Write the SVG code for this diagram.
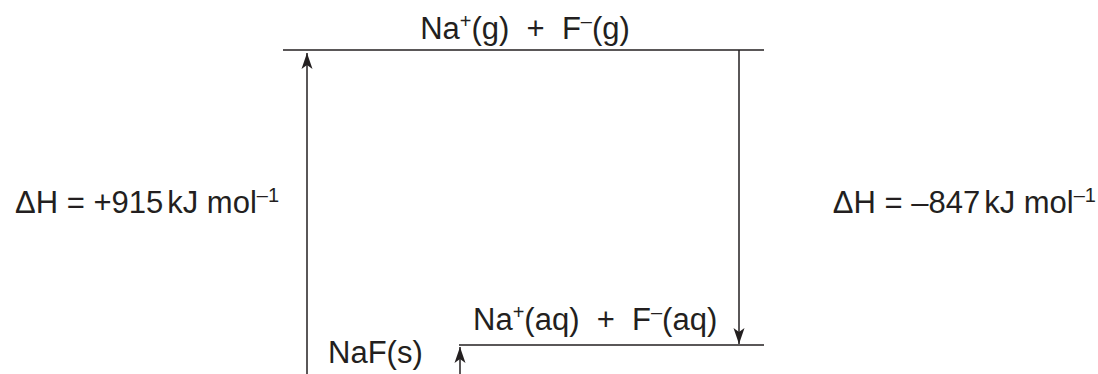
<svg xmlns="http://www.w3.org/2000/svg" width="1098" height="374" viewBox="0 0 1098 374">
<style>
text{font-family:"Liberation Sans",Arial,sans-serif;font-size:31px;fill:#231f20;white-space:pre}
.sup{font-size:20px}
.lvl{stroke:#231f20;stroke-width:1.5;fill:none}
.arr{stroke:#231f20;stroke-width:1.5;fill:none}
</style>
<defs>
<marker id="ah" viewBox="0 0 16 12" refX="16" refY="6" markerWidth="16" markerHeight="12" markerUnits="userSpaceOnUse" orient="auto">
<path d="M0,0.5 L16,6 L0,11.5 L4,6 Z" fill="#231f20"/>
</marker>
</defs>
<rect width="1098" height="374" fill="#fff"/>
<g id="level-gas">
<line class="lvl" x1="283" y1="50" x2="764" y2="50"/>
<text x="525" y="39" text-anchor="middle" xml:space="preserve">Na<tspan class="sup" dy="-11">+</tspan><tspan dy="11">(g)  +  F</tspan><tspan class="sup" dy="-11">–</tspan><tspan dy="11">(g)</tspan></text>
</g>
<g id="level-aq">
<line class="lvl" x1="459" y1="345" x2="764" y2="345"/>
<text x="473" y="330" xml:space="preserve">Na<tspan class="sup" dy="-11">+</tspan><tspan dy="11">(aq)  +  F</tspan><tspan class="sup" dy="-11">–</tspan><tspan dy="11">(aq)</tspan></text>
</g>
<g id="level-solid">
<text x="328" y="363">NaF(s)</text>
</g>
<g id="connectors">
<line class="arr" x1="307" y1="374" x2="307" y2="53" marker-end="url(#ah)"/>
<line class="arr" x1="739" y1="50" x2="739" y2="344" marker-end="url(#ah)"/>
<line class="arr" x1="460" y1="374" x2="460" y2="347" marker-end="url(#ah)"/>
</g>
<g id="labels">
<text x="15" y="213">ΔH = +915<tspan dx="4">kJ mol</tspan><tspan class="sup" dy="-11">–1</tspan></text>
<text x="1096" y="213" text-anchor="end">ΔH = –847<tspan dx="4">kJ mol</tspan><tspan class="sup" dy="-11">–1</tspan></text>
</g>
</svg>
